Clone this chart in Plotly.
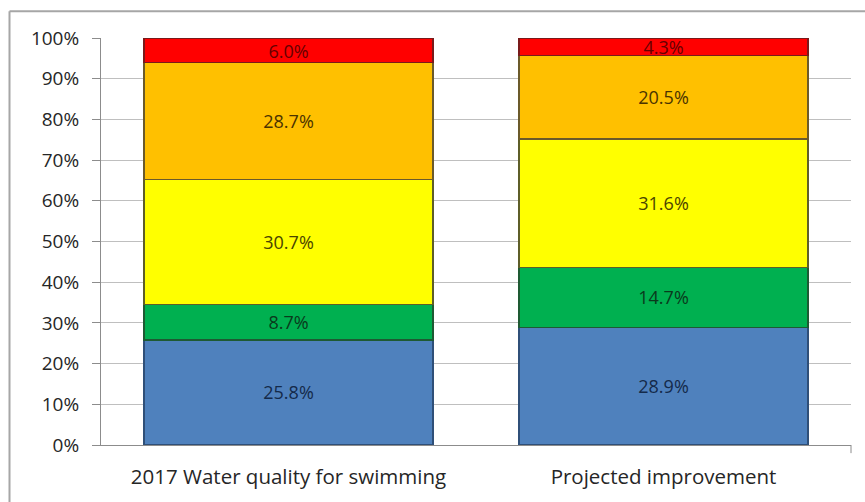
import plotly.graph_objects as go

categories = ["2017 Water quality for swimming", "Projected improvement"]
blue_vals = [25.8, 28.9]
green_vals = [8.7, 14.7]
yellow_vals = [30.7, 31.6]
orange_vals = [28.7, 20.5]
red_vals = [6.0, 4.3]
tick_vals = [0, 10, 20, 30, 40, 50, 60, 70, 80, 90, 100]
tick_text = [f"{v}%" for v in tick_vals]

FONT = "Open Sans, Liberation Sans, sans-serif"

series = [
    (blue_vals, "#4F81BD", "#2F4F78", "#142A4A"),
    (green_vals, "#00B050", "#1E5A33", "#0A3A1C"),
    (yellow_vals, "#FFFF00", "#5E5E28", "#4A4400"),
    (orange_vals, "#FFC000", "#6B5A2A", "#4A3300"),
    (red_vals, "#FF0000", "#7A1A1A", "#660000"),
]

fig = go.Figure()
for vals, fill, edge, txt in series:
    fig.add_trace(go.Bar(
        x=categories, y=vals,
        marker=dict(color=fill, line=dict(color=edge, width=1.3)),
        text=[f"{v:.1f}%" for v in vals],
        textposition="inside", insidetextanchor="middle",
        textfont=dict(family=FONT, size=18, color=txt),
        constraintext="none", cliponaxis=False,
        showlegend=False, hoverinfo="skip",
    ))

fig.update_layout(
    barmode="stack", bargap=0.23,
    width=865, height=502,
    margin=dict(l=101, r=14, t=38, b=55),
    paper_bgcolor="white", plot_bgcolor="white",
    uniformtext=dict(mode=False),
    xaxis=dict(
        showgrid=False, showline=True, linecolor="#8C8C8C", linewidth=1,
        ticks="", ticklabelstandoff=13,
        tickfont=dict(family=FONT, size=20.5, color="#262626"),
    ),
    yaxis=dict(
        range=[0, 100], tickvals=tick_vals, ticktext=tick_text,
        showgrid=True, gridcolor="#BFBFBF", gridwidth=1,
        showline=True, linecolor="#8C8C8C", linewidth=1,
        ticks="outside", ticklen=8, tickcolor="#8C8C8C",
        ticklabelstandoff=9,
        tickfont=dict(family=FONT, size=19, color="#262626"),
        zeroline=False,
    ),
    shapes=[
        # outer chart border (top and left edges visible)
        dict(type="line", xref="paper", yref="paper",
             x0=-0.122, x1=1.05, y0=1.066, y1=1.066,
             line=dict(color="#A6A6A6", width=2)),
        dict(type="line", xref="paper", yref="paper",
             x0=-0.122, x1=-0.122, y0=1.066, y1=-0.14,
             line=dict(color="#A6A6A6", width=2)),
        # category-axis end tick
        dict(type="line", xref="paper", yref="paper",
             x0=1.0, x1=1.0, y0=0, y1=-0.02,
             line=dict(color="#8C8C8C", width=1)),
    ],
)

fig.write_html("out.html")
